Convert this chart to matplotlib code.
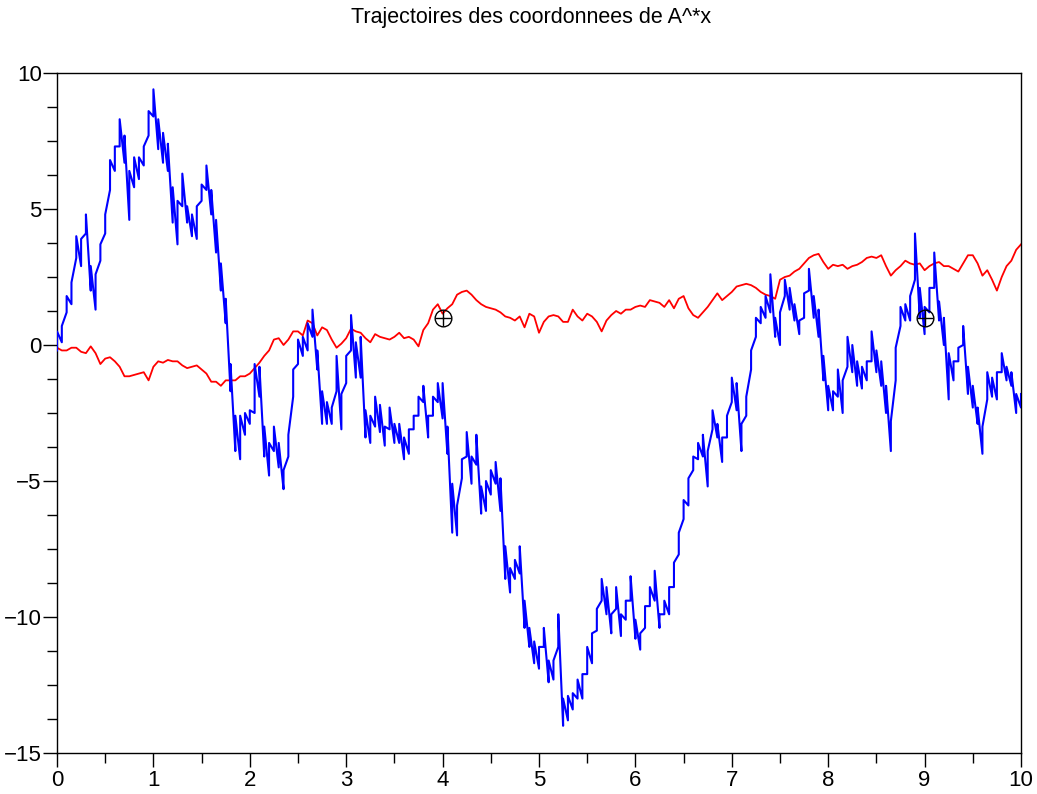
import matplotlib
matplotlib.use('Agg')
import matplotlib.pyplot as plt
from matplotlib.ticker import MultipleLocator
import numpy as np

plt.rcParams['font.family'] = ['Liberation Sans', 'DejaVu Sans']

# sample times (every 0.05)
t = np.linspace(0, 10, 201)

# blue coordinate: lower / upper edge of the noisy band
blue_lo = [-0.2, 0.1, 1.2, 1.5, 3.2, 2.9, 4.1, 2.0, 1.3, 3.1,
           4.1, 5.7, 6.4, 7.3, 6.7, 4.6, 5.8, 6.1, 6.6, 7.7,
           8.4, 7.2, 6.7, 6.4, 4.5, 3.7, 5.1, 4.5, 4.0, 3.9,
           5.3, 5.7, 4.8, 3.4, 2.0, 0.8, -1.7, -3.9, -4.2, -3.3,
           -2.9, -2.5, -1.9, -4.1, -4.8, -3.9, -4.5, -5.3, -4.1, -1.9,
           -0.7, -0.4, -0.2, 0.3, -0.9, -2.9, -2.9, -2.9, -1.7, -3.1,
           -1.4, -0.2, -1.2, -1.2, -3.4, -3.6, -3.0, -3.2, -3.7, -3.1,
           -3.6, -3.6, -4.2, -4.0, -3.1, -2.6, -2.1, -3.4, -2.6, -2.1,
           -2.7, -4.0, -6.9, -7.0, -4.9, -4.1, -5.1, -4.4, -6.2, -6.1,
           -5.5, -5.1, -6.1, -8.6, -9.1, -8.6, -8.4, -10.4, -11.1, -11.7,
           -11.9, -11.1, -12.4, -12.3, -11.1, -14.0, -13.8, -13.4, -13.0, -13.0,
           -12.1, -11.7, -10.5, -9.4, -9.9, -10.6, -9.7, -10.7, -10.1, -9.4,
           -10.8, -11.2, -10.4, -9.6, -9.4, -10.4, -9.9, -9.9, -8.9, -7.7,
           -6.4, -5.9, -4.6, -4.2, -4.1, -5.2, -3.1, -3.4, -4.3, -3.4,
           -2.1, -2.4, -3.9, -2.6, -0.9, 0.3, 0.8, 1.0, 1.2, 0.3,
           0.0, 1.8, 1.3, 0.9, 0.4, 1.0, 2.0, 1.0, 0.3, -1.3,
           -2.4, -2.4, -1.9, -2.5, -0.8, -1.0, -1.5, -1.6, -1.3, -0.6,
           -1.0, -1.5, -2.5, -3.9, -1.3, 0.7, 0.9, 0.9, 2.4, 1.0,
           0.4, 1.2, 2.1, 0.9, 0.0, -2.0, -1.3, -0.6, 0.0, -1.8,
           -2.3, -2.9, -4.0, -2.0, -1.9, -2.0, -1.0, -1.3, -1.5, -2.5,
           -2.3]
blue_hi = [0.5, 0.7, 1.8, 2.3, 4.0, 3.9, 4.8, 2.9, 2.6, 3.7,
           4.8, 6.8, 7.3, 8.3, 7.7, 6.4, 6.9, 6.9, 7.3, 8.6,
           9.4, 8.3, 7.8, 7.4, 5.8, 5.3, 6.3, 5.1, 4.8, 5.1,
           5.9, 6.6, 5.7, 4.6, 3.0, 1.7, -0.7, -2.6, -2.6, -2.5,
           -2.4, -0.7, -0.8, -3.0, -3.6, -3.0, -3.6, -4.6, -3.3, -0.9,
           0.2, 0.3, 0.8, 1.3, -0.2, -1.7, -2.1, -2.3, -0.4, -1.8,
           -0.4, 1.1, 0.1, 0.3, -2.4, -2.6, -1.9, -2.2, -3.0, -2.3,
           -2.9, -2.9, -3.4, -3.1, -2.6, -1.9, -1.5, -2.6, -1.9, -1.4,
           -1.4, -3.0, -5.1, -5.9, -4.2, -3.2, -4.1, -3.3, -5.2, -5.0,
           -4.6, -4.3, -4.9, -7.4, -8.2, -7.9, -7.4, -9.4, -10.4, -10.9,
           -11.1, -10.4, -11.6, -11.6, -9.9, -13.0, -12.9, -12.8, -12.3, -12.1,
           -11.1, -10.6, -9.7, -8.6, -8.9, -9.9, -8.9, -9.9, -9.4, -8.5,
           -10.1, -10.6, -9.6, -8.9, -8.3, -9.9, -9.4, -8.9, -8.0, -6.9,
           -5.7, -4.9, -4.1, -3.6, -3.3, -3.9, -2.4, -2.9, -3.4, -2.6,
           -1.2, -1.4, -2.9, -1.9, -0.2, 1.0, 1.4, 1.8, 2.6, 1.0,
           1.2, 2.4, 2.1, 1.5, 0.9, 1.9, 2.8, 1.8, 1.3, -0.4,
           -1.5, -1.7, -0.9, -1.3, 0.3, 0.0, -0.6, -0.8, -0.6, 0.5,
           -0.2, -0.6, -1.5, -2.8, -0.1, 1.4, 1.5, 1.8, 4.1, 2.1,
           1.4, 2.1, 3.4, 1.6, 1.0, -0.3, -0.6, -0.1, 0.7, -0.8,
           -1.5, -2.3, -3.0, -1.0, -1.2, -1.0, -0.3, -0.8, -1.0, -1.8,
           -1.8]

# red coordinate
red = [-0.1, -0.2, -0.2, -0.1, -0.1, -0.25, -0.3, -0.05, -0.3, -0.7,
       -0.5, -0.45, -0.6, -0.8, -1.15, -1.15, -1.1, -1.05, -1.0, -1.3,
       -0.8, -0.6, -0.65, -0.55, -0.6, -0.6, -0.75, -0.85, -0.8, -0.75,
       -0.9, -1.05, -1.35, -1.35, -1.5, -1.3, -1.3, -1.3, -1.15, -1.15,
       -1.05, -0.85, -0.65, -0.4, -0.2, 0.2, 0.25, 0.0, 0.2, 0.5,
       0.5, 0.35, 0.9, 0.8, 0.35, 0.65, 0.55, 0.2, -0.1, 0.05,
       0.25, 0.6, 0.5, 0.45, 0.25, 0.1, 0.4, 0.3, 0.25, 0.2,
       0.3, 0.45, 0.25, 0.3, 0.2, -0.05, 0.55, 0.8, 1.3, 1.5,
       1.15, 1.35, 1.5, 1.85, 1.95, 2.0, 1.85, 1.65, 1.5, 1.4,
       1.35, 1.3, 1.2, 1.05, 1.0, 0.9, 1.05, 0.65, 1.15, 1.05,
       0.45, 0.85, 1.05, 1.1, 1.05, 0.85, 0.85, 1.3, 1.05, 0.9,
       1.15, 1.05, 0.85, 0.5, 0.9, 1.1, 1.25, 1.15, 1.3, 1.3,
       1.4, 1.45, 1.4, 1.65, 1.6, 1.55, 1.4, 1.65, 1.35, 1.7,
       1.8, 1.35, 1.1, 1.0, 1.2, 1.4, 1.65, 1.9, 1.65, 1.8,
       1.95, 2.15, 2.2, 2.25, 2.2, 2.1, 1.95, 1.85, 1.8, 1.7,
       2.4, 2.5, 2.55, 2.7, 2.8, 3.0, 3.2, 3.3, 3.35, 3.05,
       2.8, 2.95, 2.9, 2.95, 2.8, 2.9, 2.95, 3.05, 3.2, 3.25,
       3.2, 3.3, 2.9, 2.55, 2.75, 2.9, 3.1, 3.0, 2.95, 3.0,
       2.75, 2.9, 3.0, 3.05, 2.9, 2.9, 2.8, 2.7, 3.0, 3.3,
       3.3, 3.0, 2.55, 2.75, 2.4, 2.0, 2.5, 2.9, 3.1, 3.5,
       3.7]

# marked points
mark_x = [4, 9]
mark_y = [1, 1]

fig = plt.figure(figsize=(10.37, 7.94), dpi=100)
ax = fig.add_axes([57 / 1037, 41 / 794, 964 / 1037, 680 / 794])

# zigzag between band edges to mimic the brownian jitter
bx = np.repeat(t, 2)
by = np.column_stack([blue_lo, blue_hi]).ravel()

ax.plot(t, red, color='#ff0000', linewidth=1.3, zorder=2)
ax.plot(bx, by, color='#0000ff', linewidth=1.5, zorder=3)
ax.plot(mark_x, mark_y, 'o', ms=12, mfc='none', mec='black', mew=1.0, zorder=4)
ax.plot(mark_x, mark_y, '+', ms=12, mec='black', mew=1.0, zorder=4)

ax.set_xlim(0, 10)
ax.set_ylim(-15, 10)
ax.xaxis.set_major_locator(MultipleLocator(1))
ax.xaxis.set_minor_locator(MultipleLocator(0.5))
ax.yaxis.set_major_locator(MultipleLocator(5))
ax.yaxis.set_minor_locator(MultipleLocator(1.25))
ax.tick_params(which='major', direction='out', length=10, width=1, labelsize=16)
ax.tick_params(which='minor', direction='out', length=7, width=1)
ax.tick_params(axis='y', pad=1)
ax.tick_params(axis='x', pad=2)
for s in ax.spines.values():
    s.set_linewidth(1.0)

fig.text(531 / 1037, 1 - 18 / 794, 'Trajectoires des coordonnees de A^*x',
         ha='center', va='center', fontsize=15.5)

fig.savefig('out.png', dpi=100)
plt.close(fig)
